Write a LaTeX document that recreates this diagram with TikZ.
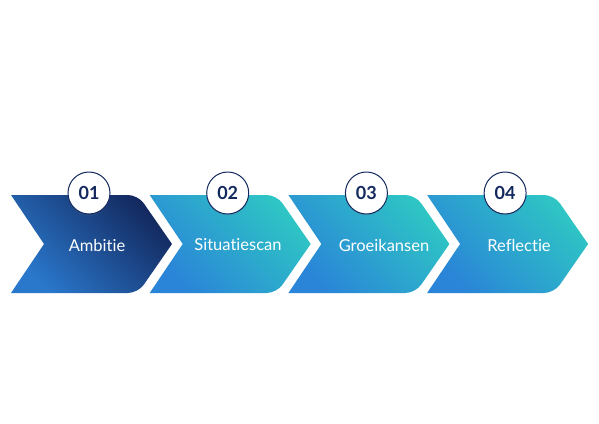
\documentclass[tikz,border=0pt]{standalone}
\usepackage{fontspec}
\setmainfont[Ligatures={NoCommon,NoRare}]{Lato}
\usetikzlibrary{shadows}
\definecolor{navy}{HTML}{13285E}
\definecolor{navyB}{HTML}{2A78CC}
\definecolor{tealA}{HTML}{2EC6C4}
\definecolor{blueA}{HTML}{2A84D8}
\begin{document}
\begin{tikzpicture}[x=1pt,y=-1pt,
  numcirc/.style={circle,draw=navy,line width=1pt,fill=white,minimum size=42pt,inner sep=0pt,
     font=\fontsize{18}{18}\selectfont\bfseries,text=navy,
     drop shadow={opacity=0.10,shadow xshift=0pt,shadow yshift=-2pt}},
  lbl/.style={text=white,font=\fontsize{16.5}{17}\selectfont}]
\useasboundingbox (0,0) rectangle (599,423);
\foreach \i/\lab/\lx/\ca/\cb in {1/Ambitie/97/navy/navyB,2/Situatiescan/238/tealA/blueA,3/Groeikansen/384/tealA/blueA,4/Reflectie/519/tealA/blueA}{
  \pgfmathsetmacro\xo{11+138.7*(\i-1)}
  \shade[top color=\ca,bottom color=\cb,shading angle=-45]
    (\xo,195) [rounded corners=10pt] -- (\xo+127,195) [sharp corners] -- (\xo+161,244)
    [rounded corners=10pt] -- (\xo+127,293) [sharp corners] -- (\xo,293) -- (\xo+33,244) -- cycle;
  \node[lbl] (label\i) at (\lx,245) {\lab};
  \node[numcirc] (num\i) at (\xo+78,193) {0\i};
}
\end{tikzpicture}
\end{document}
